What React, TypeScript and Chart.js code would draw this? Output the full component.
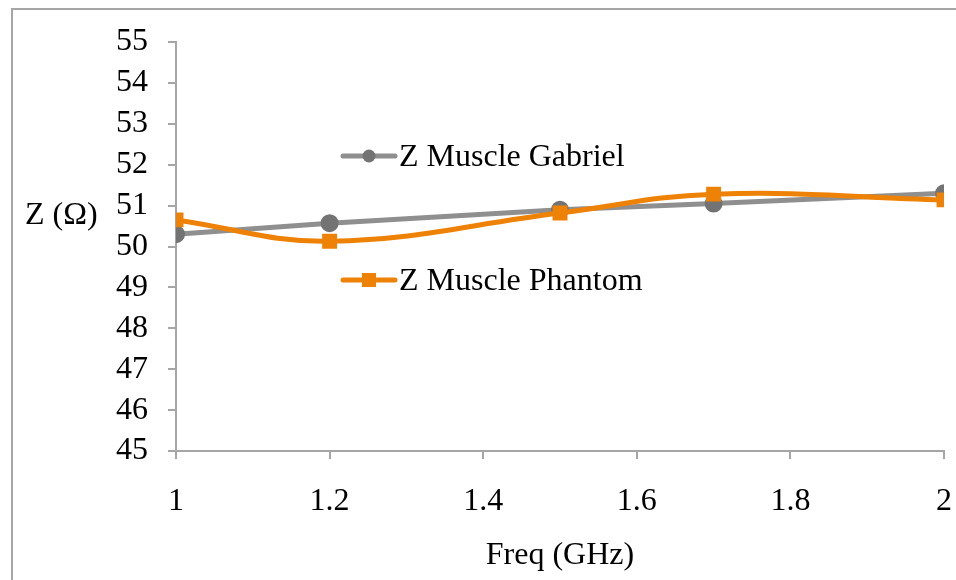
import React, { useEffect, useRef } from "react";
import { Chart, registerables } from "chart.js";

Chart.register(...registerables);

const freqs = [1, 1.2, 1.5, 1.7, 2];
const gabriel = [50.3, 50.57, 50.9, 51.05, 51.3];
const phantom = [50.65, 50.13, 50.82, 51.28, 51.14];
const seriesNames = ["Z Muscle Gabriel", "Z Muscle Phantom"];
const xTitle = "Freq (GHz)";
const yTitle = "Z (Ω)";

const FONT = "'Liberation Serif', 'Times New Roman', serif";
const FS = 32;
const GRAY = "#8f8f8f";
const GRAY_PT = "#737373";
const ORANGE = "#ee8207";
const AXIS = "#a6a6a6";

const decorPlugin = {
  id: "decor",
  beforeDraw(chart: any) {
    const ctx = chart.ctx;
    ctx.save();
    ctx.strokeStyle = "#a6a6a6";
    ctx.lineWidth = 2;
    ctx.strokeRect(12, 9, 2000, 2000);
    ctx.restore();
  },
  afterDraw(chart: any) {
    const ctx = chart.ctx;
    const area = chart.chartArea;
    ctx.save();
    ctx.fillStyle = "#000";
    ctx.font = `${FS}px ${FONT}`;
    ctx.textBaseline = "middle";
    ctx.textAlign = "left";
    ctx.fillText(yTitle, 25, 216);
    ctx.textAlign = "center";
    ctx.fillText(xTitle, (area.left + area.right) / 2, 556);

    // legend
    const items = [
      { name: seriesNames[0], color: GRAY, pt: GRAY_PT, shape: "circle", y: 156 },
      { name: seriesNames[1], color: ORANGE, pt: ORANGE, shape: "square", y: 280 },
    ];
    items.forEach((it) => {
      ctx.strokeStyle = it.color;
      ctx.lineWidth = 5;
      ctx.lineCap = "round";
      ctx.beginPath();
      ctx.moveTo(343, it.y);
      ctx.lineTo(395, it.y);
      ctx.stroke();
      ctx.fillStyle = it.pt;
      if (it.shape === "circle") {
        ctx.beginPath();
        ctx.arc(369, it.y, 6.5, 0, Math.PI * 2);
        ctx.fill();
      } else {
        ctx.fillRect(362, it.y - 7, 14, 14);
      }
      ctx.fillStyle = "#000";
      ctx.textAlign = "left";
      ctx.fillText(it.name, 399, it.y + 2);
    });
    ctx.restore();
  },
};

export default function App() {
  const ref = useRef<HTMLCanvasElement>(null);
  useEffect(() => {
    if (!ref.current) return;
    const chart = new Chart(ref.current, {
      type: "line",
      data: {
        datasets: [
          {
            label: seriesNames[0],
            data: freqs.map((x, i) => ({ x, y: gabriel[i] })),
            borderColor: GRAY,
            backgroundColor: GRAY_PT,
            pointBackgroundColor: GRAY_PT,
            pointBorderColor: GRAY_PT,
            pointStyle: "circle",
            pointRadius: 6.5,
            borderWidth: 5,
            tension: 0,
            order: 2,
          },
          {
            label: seriesNames[1],
            data: freqs.map((x, i) => ({ x, y: phantom[i] })),
            borderColor: ORANGE,
            backgroundColor: ORANGE,
            pointBackgroundColor: ORANGE,
            pointBorderColor: ORANGE,
            pointStyle: "rect",
            pointRadius: 7,
            borderWidth: 5,
            tension: 0.4,
            order: 1,
          },
        ],
      },
      options: {
        animation: false,
        responsive: false,
        layout: { padding: { left: 0, top: 42, right: 10, bottom: 0 } },
        plugins: {
          legend: { display: false },
          tooltip: { enabled: false },
        },
        scales: {
          x: {
            type: "linear",
            min: 1,
            max: 2,
            ticks: {
              stepSize: 0.2,
              autoSkip: false,
              color: "#000",
              padding: 23,
              font: { family: FONT, size: FS },
              maxRotation: 0,
              callback: (v: any) => String(Math.round(Number(v) * 10) / 10),
            },
            grid: {
              drawOnChartArea: false,
              drawTicks: true,
              tickLength: 8,
              color: AXIS,
              lineWidth: 2,
            },
            border: { display: true, color: AXIS, width: 2 },
            afterFit: (s: any) => {
              s.height = 129;
              s.paddingLeft = 0;
              s.paddingRight = 0;
            },
          },
          y: {
            min: 45,
            max: 55,
            ticks: {
              stepSize: 1,
              autoSkip: false,
              color: "#000",
              padding: 20,
              font: { family: FONT, size: FS },
            },
            grid: {
              drawOnChartArea: false,
              drawTicks: true,
              tickLength: 8,
              color: AXIS,
              lineWidth: 2,
            },
            border: { display: true, color: AXIS, width: 2 },
            afterFit: (s: any) => {
              s.width = 176;
              s.paddingTop = 0;
              s.paddingBottom = 0;
            },
          },
        },
      },
      plugins: [decorPlugin],
    });
    return () => chart.destroy();
  }, []);
  return (
    <div style={{ position: "fixed", left: 0, top: 0, width: 956, height: 580, background: "#fff" }}>
      <canvas ref={ref} width={956} height={580} style={{ display: "block", width: 956, height: 580 }} />
    </div>
  );
}
